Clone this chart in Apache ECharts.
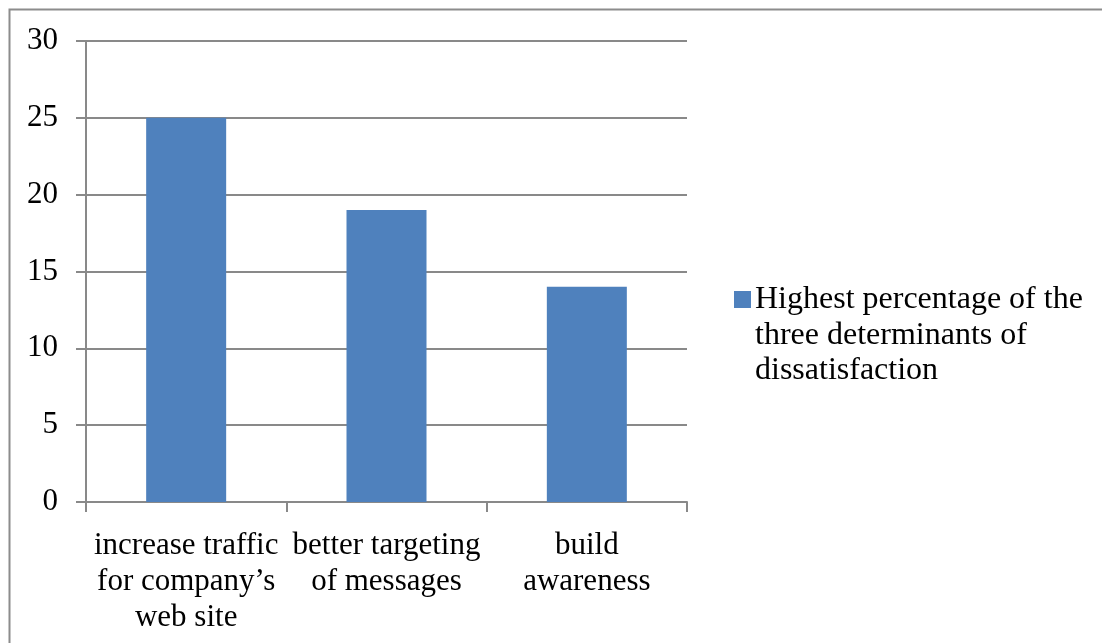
<!DOCTYPE html>
<html>
<head>
<meta charset="utf-8">
<script src="https://cdn.jsdelivr.net/npm/echarts@6/dist/echarts.min.js"></script>
<style>
    html, body { margin: 0; padding: 0; background: #fff; }
    #chart { width: 1102px; height: 643px; }
</style>
</head>
<body>
<div id="chart"></div>
<script>
// chart data
const categories = ['increase traffic for company\u2019s web site', 'better targeting of messages', 'build awareness'];
const categoryLabels = ['increase traffic\nfor company\u2019s\nweb site', 'better targeting\nof messages', 'build\nawareness'];
const seriesName = 'Highest percentage of the three determinants of dissatisfaction';
const legendLabel = 'Highest percentage of the\nthree determinants of\ndissatisfaction';
const values = [25, 19, 14];
const yTicks = [0, 5, 10, 15, 20, 25, 30];

const serif = '"Liberation Serif", "Times New Roman", serif';
const gridColor = '#898989';

var chart = echarts.init(document.getElementById('chart'));

var option = {
    animation: false,
    backgroundColor: '#fff',
    graphic: [
        {
            type: 'rect',
            shape: {x: 9.5, y: 9.5, width: 1200, height: 1000},
            style: {fill: 'none', stroke: '#8c8c8c', lineWidth: 2},
            silent: true
        }
    ],
    grid: {
        left: 86,
        right: 415,
        top: 41,
        bottom: 141
    },
    legend: {
        orient: 'vertical',
        left: 729,
        top: 277,
        itemWidth: 17,
        itemHeight: 107,
        itemGap: 0,
        // square sits next to the first text line, not the middle of the block
        icon: 'path://M0,0L0,0ZM0,9L17,9L17,26L0,26ZM0,107L0,107Z',
        data: [seriesName],
        formatter: function() { return legendLabel; },
        textStyle: {
            fontFamily: serif,
            fontSize: 32,
            color: '#000',
            lineHeight: 35.5,
            padding: [0, 0, 0, -1]
        }
    },
    xAxis: {
        type: 'category',
        data: categories,
        boundaryGap: true,
        axisLine: {show: true, lineStyle: {color: gridColor, width: 2}},
        axisTick: {show: true, length: 10, alignWithLabel: false, lineStyle: {color: gridColor, width: 2}},
        axisLabel: {
            interval: 0,
            margin: 26,
            fontFamily: serif,
            fontSize: 31,
            color: '#000',
            lineHeight: 36,
            formatter: function(v, i) { return categoryLabels[i]; }
        },
        splitLine: {show: false}
    },
    yAxis: {
        type: 'value',
        min: 0,
        max: 30,
        interval: 5,
        axisLine: {show: true, lineStyle: {color: gridColor, width: 2}},
        axisTick: {show: true, length: 10, lineStyle: {color: gridColor, width: 2}},
        axisLabel: {
            margin: 28,
            fontFamily: serif,
            fontSize: 31,
            color: '#000',
            formatter: function(v) { return yTicks.indexOf(v) >= 0 ? String(v) : ''; }
        },
        splitLine: {show: true, lineStyle: {color: gridColor, width: 2}}
    },
    series: [
        {
            name: seriesName,
            type: 'bar',
            data: values,
            barWidth: 80,
            itemStyle: {color: '#4f81bd'}
        }
    ]
};

chart.setOption(option);
</script>
</body>
</html>
